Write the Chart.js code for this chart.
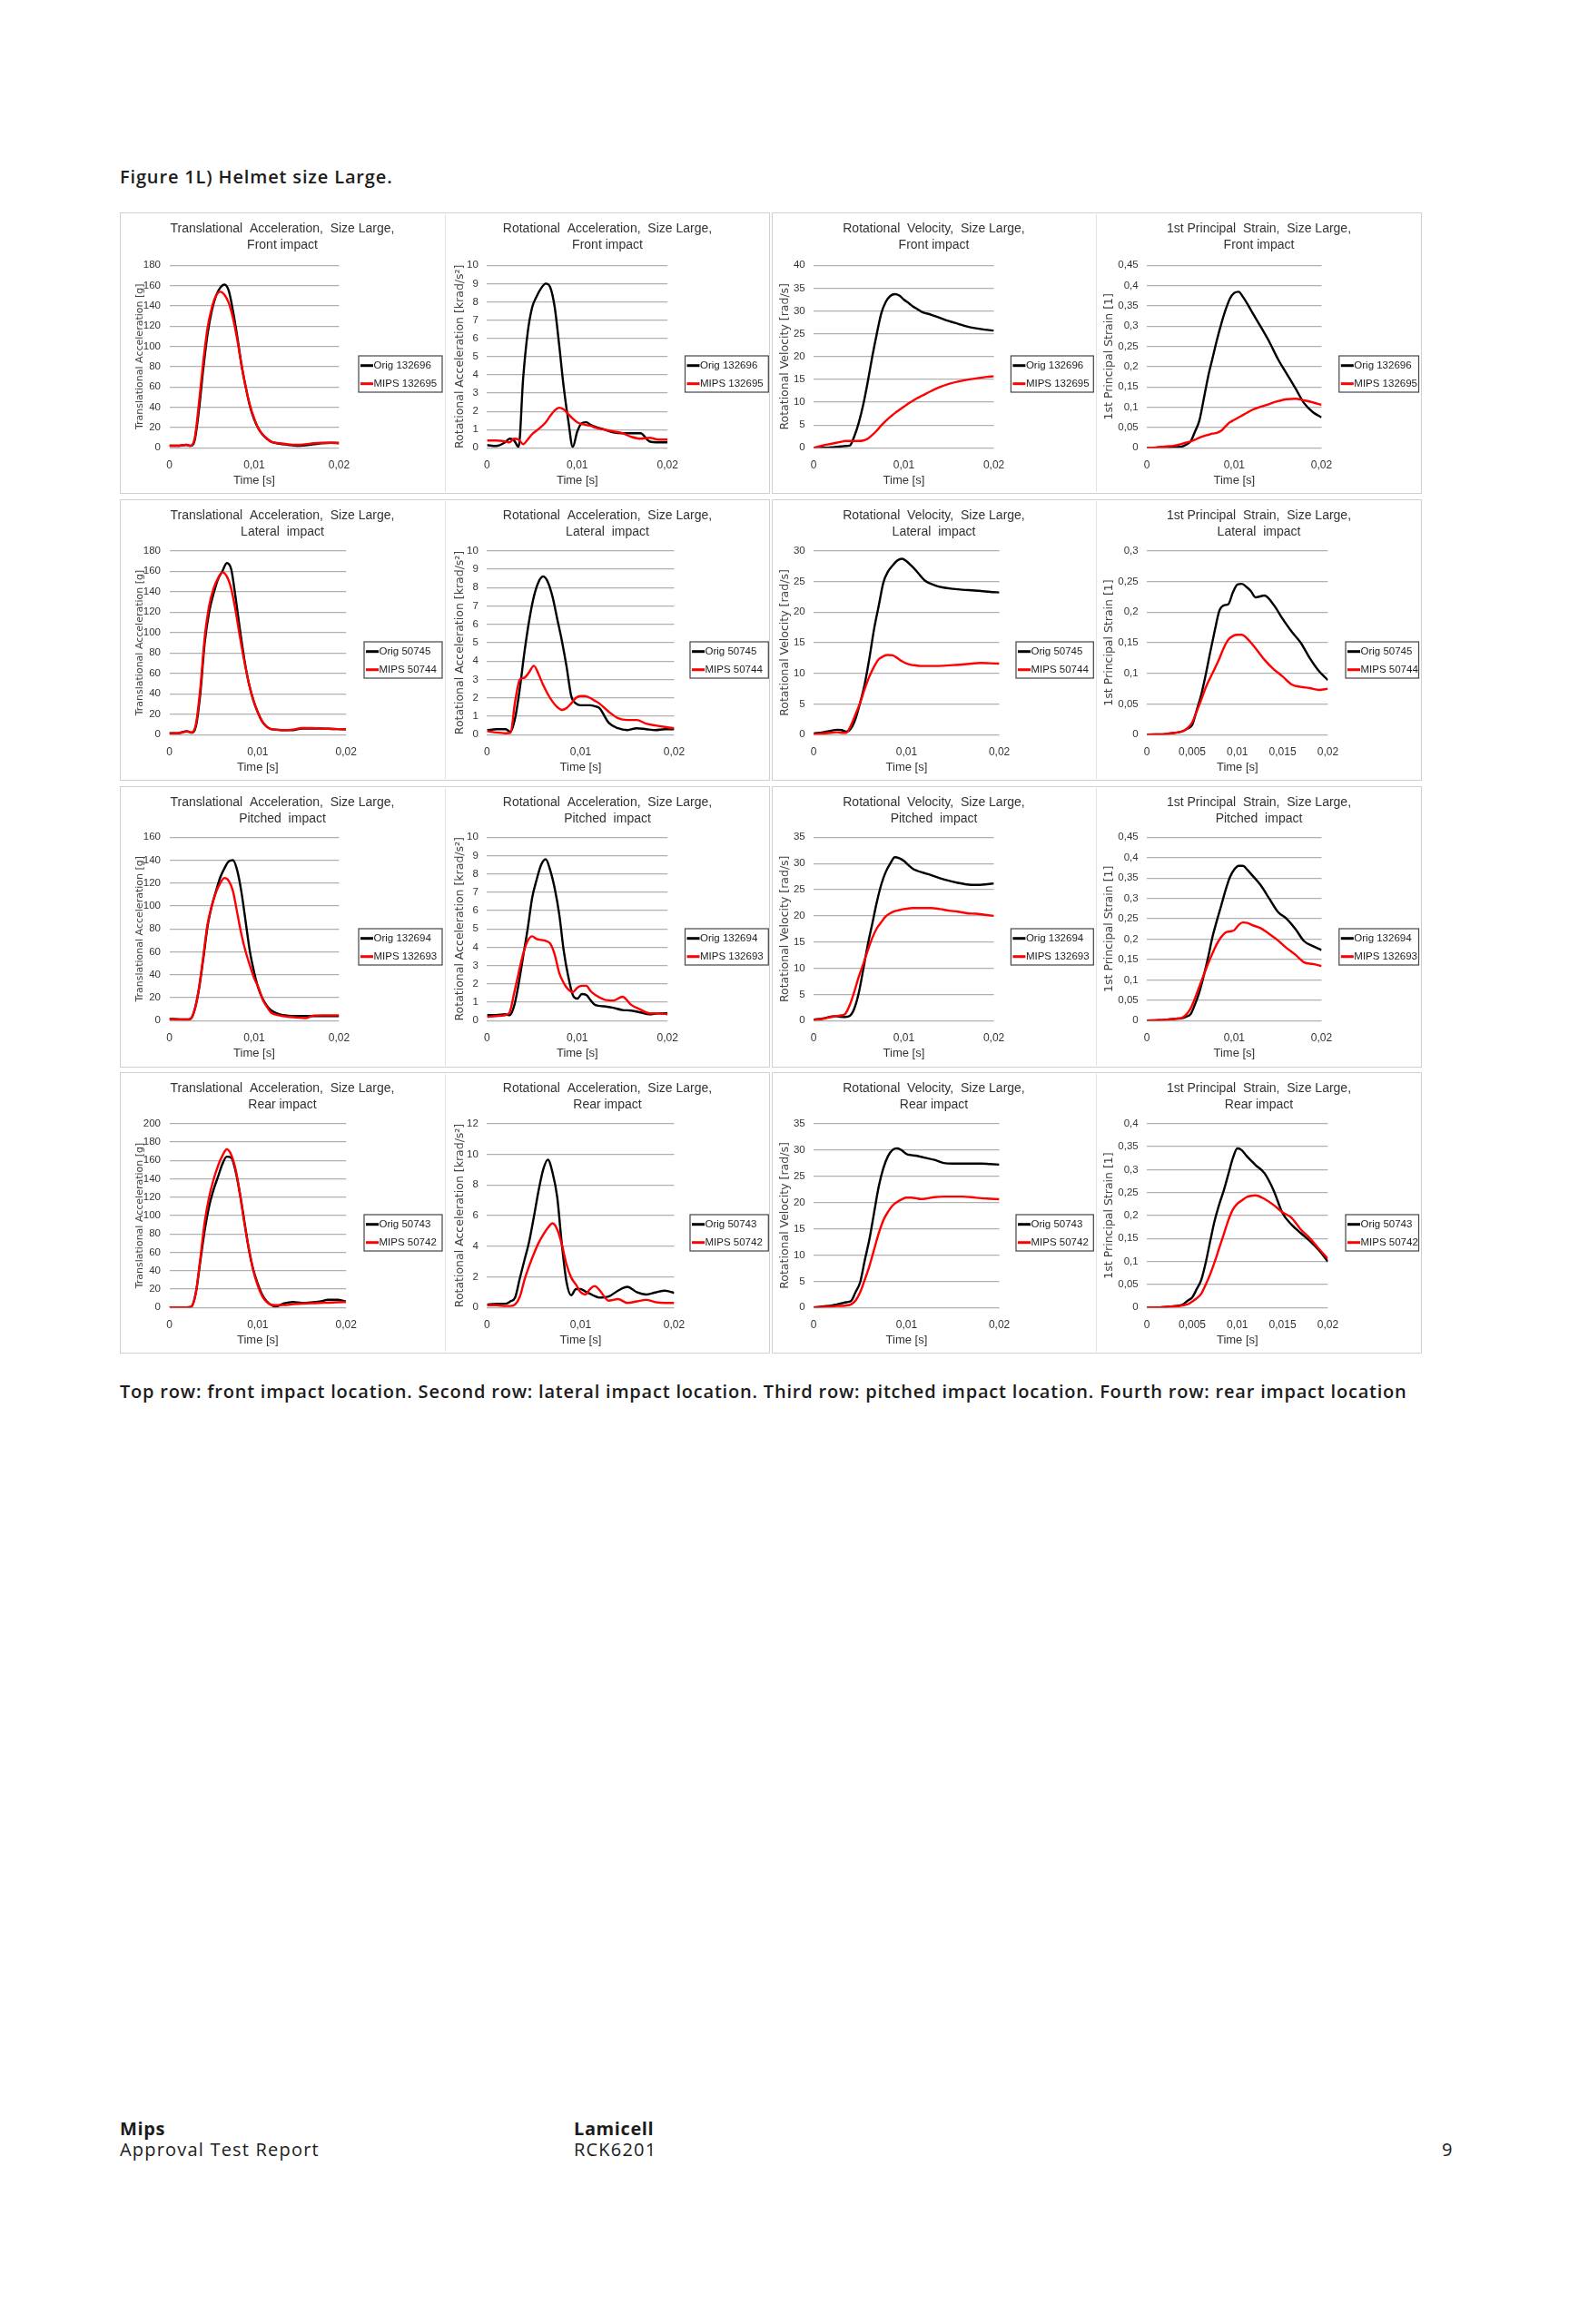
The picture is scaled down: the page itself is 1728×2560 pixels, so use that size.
<!DOCTYPE html>
<html>
<head>
<meta charset="utf-8">
<script src="https://cdn.jsdelivr.net/npm/chart.js@4.4.0/dist/chart.umd.min.js"></script>
<style>
  body { margin: 0; background: #fff; width: 1728px; height: 2560px; position: relative; font-family: "Open Sans", sans-serif; color: #1c1c1c; }
  .txt { position: absolute; white-space: nowrap; line-height: 24px; }
  .frame { position: absolute; border: 1.5px solid #d0d0d0; box-sizing: border-box; }
  .divider { position: absolute; width: 1px; background: #e3e3e3; }
  canvas { position: absolute; }
</style>
</head>
<body>

<div class="txt" style="left:132px;top:183px;font-size:20px;font-weight:600;letter-spacing:0.85px">Figure 1L) Helmet size Large.</div>
<div class="txt" style="left:132px;top:1521px;font-size:20px;font-weight:600;letter-spacing:0.8px">Top row: front impact location. Second row: lateral impact location. Third row: pitched impact location. Fourth row: rear impact location</div>

<div class="txt" style="left:132px;top:2333px;font-size:20px;font-weight:700;letter-spacing:0.6px">Mips</div>
<div class="txt" style="left:132px;top:2356px;font-size:20px;letter-spacing:1.2px">Approval Test Report</div>
<div class="txt" style="left:632px;top:2333px;font-size:20px;font-weight:700;letter-spacing:0.6px">Lamicell</div>
<div class="txt" style="left:632px;top:2356px;font-size:20px;letter-spacing:1.2px">RCK6201</div>
<div class="txt" style="left:1588px;top:2356px;font-size:20px">9</div>

<div id="grid"></div>

<script>
// time stamps [s], shared by every curve
const T = [0, 0.001, 0.002, 0.0025, 0.003, 0.0035, 0.004, 0.0045, 0.005, 0.0055, 0.006, 0.0065, 0.007, 0.0075, 0.008, 0.0085, 0.009, 0.0095, 0.01, 0.0105, 0.011, 0.0115, 0.012, 0.013, 0.014, 0.015, 0.016, 0.017, 0.018, 0.019, 0.02];

// front impact
const transFrontOrig = [2,2,3,2,8,38,78,112,135,150,158,161,155,135,110,82,60,41,28,19,13,9,6,4,3,2,2.5,3.5,4.5,5,4.5];
const transFrontMips = [2,2,3,2,10,45,85,118,138,150,154,151,143,128,107,82,60,42,29,19,13,9,6,4.5,3.5,3,3.5,4.5,5,5,5];
const rotAccFrontOrig = [0.15,0.1,0.3,0.5,0.4,0.05,3.8,6.3,7.7,8.3,8.75,9.0,8.8,7.7,5.6,3.3,1.5,0.05,0.9,1.35,1.4,1.25,1.15,1.0,0.85,0.8,0.8,0.8,0.35,0.3,0.3];
const rotAccFrontMips = [0.4,0.4,0.35,0.3,0.5,0.45,0.2,0.45,0.75,0.95,1.15,1.4,1.75,2.05,2.2,2.1,1.85,1.6,1.4,1.3,1.25,1.2,1.1,1.0,0.9,0.8,0.6,0.5,0.55,0.45,0.45];
const rotVelFrontOrig = [0,0,0.1,0.2,0.3,0.4,0.5,2.5,5.5,9.5,14.5,20,25,29.5,32,33.3,33.7,33.4,32.5,31.8,31,30.4,29.8,29.2,28.5,27.8,27.2,26.6,26.2,25.9,25.7];
const rotVelFrontMips = [0,0.5,0.9,1.1,1.3,1.5,1.5,1.5,1.5,1.6,2.0,2.8,3.8,4.9,5.9,6.8,7.6,8.3,9.0,9.7,10.3,10.9,11.4,12.4,13.3,14.0,14.5,14.9,15.2,15.5,15.7];
const strainFrontOrig = [0,0,0.001,0.001,0.002,0.002,0.003,0.008,0.016,0.04,0.067,0.12,0.175,0.22,0.265,0.305,0.34,0.368,0.382,0.385,0.372,0.355,0.336,0.3,0.262,0.219,0.183,0.147,0.11,0.088,0.075];
const strainFrontMips = [0,0.001,0.003,0.004,0.005,0.007,0.01,0.013,0.016,0.02,0.025,0.029,0.032,0.035,0.037,0.042,0.053,0.063,0.069,0.075,0.081,0.087,0.093,0.101,0.108,0.115,0.12,0.121,0.117,0.112,0.106];

// lateral impact
const transLatOrig = [1.5,1.5,3.5,2,8,40,90,120,138,152,160,168,162,134,102,73,50,34,22,13,8,5.5,5,4.4,4.5,6,6,6,5.8,5.5,5.3];
const transLatMips = [1.5,1.5,3,2,10,45,95,126,143,153,159,155,143,121,95,71,50,34,22,13,8,5.5,5,4.4,5,6.5,6.5,6,5.8,5.5,5.3];
const rotAccLatOrig = [0.25,0.3,0.3,0.15,0.9,2.5,4.5,6.2,7.5,8.3,8.6,8.3,7.5,6.3,5.1,3.7,2.1,1.7,1.6,1.6,1.6,1.55,1.45,0.65,0.35,0.25,0.35,0.3,0.25,0.3,0.3];
const rotAccLatMips = [0.2,0.12,0.08,0.1,1.8,3.0,3.1,3.4,3.75,3.3,2.7,2.2,1.8,1.5,1.35,1.45,1.7,2.0,2.1,2.1,2.0,1.85,1.7,1.25,0.9,0.8,0.8,0.6,0.5,0.42,0.35];
const rotVelLatOrig = [0.2,0.4,0.7,0.8,0.75,0.5,1.0,2.6,5.2,8.3,12.5,17.2,21,24.8,26.6,27.6,28.4,28.7,28.3,27.6,26.8,25.9,25.1,24.4,24,23.8,23.65,23.55,23.45,23.3,23.2];
const rotVelLatMips = [0.1,0.2,0.35,0.4,0.3,0.3,1.5,3.3,5.2,7.5,9.5,11.1,12.3,12.8,13.0,12.95,12.5,12.0,11.6,11.4,11.3,11.2,11.2,11.2,11.25,11.35,11.45,11.6,11.7,11.65,11.6];
const strainLatOrig = [0,0.0005,0.001,0.002,0.003,0.004,0.006,0.01,0.016,0.04,0.065,0.098,0.135,0.17,0.202,0.211,0.213,0.232,0.245,0.246,0.241,0.234,0.224,0.227,0.212,0.189,0.168,0.15,0.125,0.104,0.089];
const strainLatMips = [0,0.0005,0.001,0.002,0.003,0.004,0.006,0.011,0.02,0.038,0.057,0.077,0.093,0.108,0.124,0.142,0.155,0.161,0.163,0.163,0.158,0.15,0.141,0.122,0.107,0.095,0.082,0.078,0.076,0.073,0.075];

// pitched impact
const transPitOrig = [1.5,1.2,1,1.5,10,28,54,82,100,113,125,133,139,140,131,112,86,60,42,28,19,13,9,5.5,4.3,4,4,4,4,4,4];
const transPitMips = [1.5,1,1,1.5,10,29,56,84,100,112,120,124.5,122,113,94,75,60,48,37,29,18.5,12,7,4.5,3.4,2.8,2.2,4.5,4.7,4.7,4.7];
const rotAccPitOrig = [0.3,0.3,0.35,0.3,0.8,2.0,3.5,5.0,6.7,7.7,8.5,8.8,8.2,7.2,5.8,3.8,2.4,1.4,1.2,1.45,1.4,1.1,0.85,0.78,0.7,0.58,0.55,0.45,0.35,0.4,0.4];
const rotAccPitMips = [0.2,0.25,0.3,0.45,1.5,2.6,3.65,4.35,4.6,4.45,4.4,4.35,4.2,3.6,2.6,2.05,1.7,1.55,1.8,1.9,1.9,1.6,1.4,1.15,1.1,1.3,0.85,0.6,0.4,0.4,0.35];
const rotVelPitOrig = [0.2,0.4,0.8,0.85,0.75,0.7,0.9,2.3,5.3,9.8,14.5,18.5,22.6,26,28.4,30,31.2,31,30.5,29.7,29,28.6,28.3,27.8,27.2,26.7,26.3,26,25.9,26,26.2];
const rotVelPitMips = [0.1,0.35,0.7,0.85,1.0,1.3,3.0,5.5,8.4,10.8,13.4,15.8,17.6,18.8,19.9,20.5,20.9,21.1,21.3,21.4,21.5,21.5,21.5,21.5,21.3,21,20.8,20.5,20.4,20.2,20];
const strainPitOrig = [0,0.001,0.002,0.003,0.004,0.005,0.006,0.01,0.016,0.04,0.07,0.11,0.155,0.205,0.245,0.282,0.32,0.352,0.371,0.38,0.38,0.37,0.358,0.333,0.3,0.267,0.25,0.225,0.195,0.183,0.173];
const strainPitMips = [0,0.001,0.002,0.003,0.004,0.005,0.007,0.015,0.03,0.055,0.084,0.112,0.14,0.165,0.188,0.205,0.216,0.219,0.222,0.235,0.241,0.24,0.235,0.227,0.213,0.197,0.178,0.162,0.143,0.139,0.134];

// rear impact
const transRearOrig = [0,0,0,1,16,50,84,110,128,142,156,164,163,148,123,93,63,41,26,14,7,3,1,4.5,6,5,5.5,6.5,8.5,8.5,6.6];
const transRearMips = [0,0,0,1,16,53,93,120,139,154,165,172,166,150,123,91,64,40,24,12.5,6,3,2.5,2.6,3.6,4.3,4.6,5,5.3,5.7,6];
const rotAccRearOrig = [0.2,0.25,0.25,0.4,0.65,1.9,3.1,4.3,5.9,7.6,9.0,9.65,8.8,7.2,4.1,1.65,0.8,1.2,1.2,1.05,0.9,0.75,0.65,0.72,1.1,1.35,1.0,0.85,0.98,1.1,0.95];
const rotAccRearMips = [0.15,0.15,0.1,0.1,0.2,0.7,1.8,2.7,3.5,4.2,4.75,5.2,5.5,5.1,4.1,2.8,1.95,1.5,1.0,0.85,1.2,1.4,1.15,0.45,0.55,0.3,0.4,0.5,0.35,0.3,0.3];
const rotVelRearOrig = [0,0.2,0.4,0.6,0.8,1.0,1.2,2.9,4.8,9,13,18,23,26.5,28.8,30,30.3,29.9,29.2,29,28.9,28.7,28.5,28.1,27.5,27.4,27.4,27.4,27.4,27.3,27.2];
const rotVelRearMips = [0,0.1,0.2,0.3,0.3,0.4,0.6,1.3,2.9,5.3,7.9,11,14.1,16.6,18.2,19.4,20.1,20.6,20.9,20.9,20.8,20.65,20.7,21,21.1,21.1,21.1,21,20.8,20.7,20.6];
const strainRearOrig = [0,0,0.001,0.002,0.003,0.004,0.007,0.015,0.022,0.04,0.06,0.098,0.145,0.19,0.225,0.255,0.29,0.325,0.346,0.342,0.33,0.32,0.31,0.292,0.255,0.205,0.18,0.162,0.145,0.125,0.1];
const strainRearMips = [0,0,0.001,0.002,0.002,0.003,0.005,0.007,0.013,0.02,0.03,0.05,0.073,0.1,0.13,0.16,0.19,0.213,0.226,0.233,0.24,0.243,0.244,0.236,0.223,0.207,0.195,0.17,0.151,0.128,0.106];

// labels
const titleTop = ['Translational  Acceleration,  Size Large,', 'Rotational  Acceleration,  Size Large,', 'Rotational  Velocity,  Size Large,', '1st Principal  Strain,  Size Large,'];
const impacts = ['Front impact', 'Lateral  impact', 'Pitched  impact', 'Rear impact'];
const yTitles = ['Translational Acceleration [g]', 'Rotational Acceleration [krad/s\u00b2]', 'Rotational Velocity [rad/s]', '1st Principal Strain [1]'];
const origLabels = ['Orig 132696', 'Orig 50745', 'Orig 132694', 'Orig 50743'];
const mipsLabels = ['MIPS 132695', 'MIPS 50744', 'MIPS 132693', 'MIPS 50742'];

// axis ranges per row / column
const yMax = [[180, 10, 40, 0.45], [180, 10, 30, 0.3], [160, 10, 35, 0.45], [200, 12, 35, 0.4]];
const yStep = [[20, 1, 5, 0.05], [20, 1, 5, 0.05], [20, 1, 5, 0.05], [20, 2, 5, 0.05]];
const xStep = [[0.01, 0.01, 0.01, 0.01], [0.01, 0.01, 0.01, 0.005], [0.01, 0.01, 0.01, 0.01], [0.01, 0.01, 0.01, 0.005]];

const origSeries = [
  [transFrontOrig, rotAccFrontOrig, rotVelFrontOrig, strainFrontOrig],
  [transLatOrig, rotAccLatOrig, rotVelLatOrig, strainLatOrig],
  [transPitOrig, rotAccPitOrig, rotVelPitOrig, strainPitOrig],
  [transRearOrig, rotAccRearOrig, rotVelRearOrig, strainRearOrig]
];
const mipsSeries = [
  [transFrontMips, rotAccFrontMips, rotVelFrontMips, strainFrontMips],
  [transLatMips, rotAccLatMips, rotVelLatMips, strainLatMips],
  [transPitMips, rotAccPitMips, rotVelPitMips, strainPitMips],
  [transRearMips, rotAccRearMips, rotVelRearMips, strainRearMips]
];

// page geometry (px)
const cellX = [132, 490, 850, 1207];
const cellW = [358, 358, 357, 359];
const rowY = [234, 550, 866, 1181];
const cellH = 310;
const plotL = [186.5, 536.4, 896.2, 1263.2];
const plotR = [[373.4, 735.2, 1094.6, 1455.5], [381.2, 742.5, 1100.6, 1462.4]];
const plotT = [292.3, 606.7, 922.3, 1237.7];
const plotB = [493.3, 809.3, 1124.3, 1440.3];
const legL = [[395, 754.5, 1113.4, 1474.8], [401, 760, 1119, 1482]];
const legR = [487, 846.3, 1204.3, 1562.5];
const legT = [392, 707, 1023, 1338];
const yTitleX = [154, 506.5, 865, 1222];
const yTitleSize = [11, 12.5, 12.5, 12.5];

const FONT = '"Liberation Sans", Arial, sans-serif';
Chart.defaults.font.family = FONT;

function comma(v) {
  if (v === 0) return '0';
  return String(Math.round(v * 10000) / 10000).replace('.', ',');
}

// chart title lines + boxed legend
const cellDecor = {
  id: 'cellDecor',
  afterDraw(chart, args, opts) {
    const ctx = chart.ctx;
    ctx.save();
    ctx.fillStyle = '#333';
    ctx.font = '14px ' + FONT;
    ctx.textAlign = 'center';
    ctx.textBaseline = 'middle';
    opts.lines.forEach((s, i) => ctx.fillText(s, chart.width / 2, 17.7 + i * 18));

    const b = opts.box;
    ctx.strokeStyle = '#444';
    ctx.lineWidth = 1.2;
    ctx.strokeRect(b.x, b.y, b.w, b.h);
    ctx.font = '11.5px ' + FONT;
    ctx.textAlign = 'left';
    chart.data.datasets.forEach((ds, i) => {
      const y = b.y + 10.7 + i * 20;
      ctx.strokeStyle = ds.borderColor;
      ctx.lineWidth = 3;
      ctx.beginPath();
      ctx.moveTo(b.x + 2, y);
      ctx.lineTo(b.x + 16, y);
      ctx.stroke();
      ctx.fillStyle = '#222';
      ctx.fillText(ds.label, b.x + 16.5, y);
    });
    ctx.restore();
  }
};

const grid = document.getElementById('grid');

// frames: two images per row, each with a light divider
rowY.forEach(top => {
  [[132, 848, 490], [850, 1566, 1207]].forEach(([l, r, mid]) => {
    const f = document.createElement('div');
    f.className = 'frame';
    f.style.cssText = `left:${l}px;top:${top}px;width:${r - l}px;height:${cellH}px`;
    grid.appendChild(f);
    const d = document.createElement('div');
    d.className = 'divider';
    d.style.cssText = `left:${mid}px;top:${top + 2}px;height:${cellH - 4}px`;
    grid.appendChild(d);
  });
});

for (let r = 0; r < 4; r++) {
  for (let c = 0; c < 4; c++) {
    const cv = document.createElement('canvas');
    const W = cellW[c], H = cellH;
    cv.width = W; cv.height = H;
    cv.style.left = cellX[c] + 'px';
    cv.style.top = rowY[r] + 'px';
    grid.appendChild(cv);

    const wide = r % 2;
    const L = plotL[c] - cellX[c];
    const R = plotR[wide][c] - cellX[c];
    const top = plotT[r] - rowY[r];
    const B = plotB[r] - rowY[r];
    const yLH = yTitleSize[c] * 1.2;
    const yScaleLeft = yTitleX[c] - cellX[c] - yLH / 2;
    const yW = L - yScaleLeft;
    const xH = 36 + 13 * 1.2 / 2;

    const orig = origSeries[r][c].map((v, i) => ({ x: T[i], y: v }));
    const mips = mipsSeries[r][c].map((v, i) => ({ x: T[i], y: v }));

    new Chart(cv, {
      type: 'line',
      data: {
        datasets: [
          { label: origLabels[r], data: orig, borderColor: '#000000', borderWidth: 2.4, pointRadius: 0, cubicInterpolationMode: 'monotone', order: 1 },
          { label: mipsLabels[r], data: mips, borderColor: '#ff0000', borderWidth: 2.4, pointRadius: 0, cubicInterpolationMode: 'monotone', order: 0 }
        ]
      },
      options: {
        responsive: false,
        animation: false,
        events: [],
        layout: { padding: { left: yScaleLeft, top: top, right: W - R, bottom: H - B - xH } },
        plugins: {
          legend: { display: false },
          title: { display: false },
          tooltip: { enabled: false },
          cellDecor: {
            lines: [titleTop[c], impacts[r]],
            box: { x: legL[wide][c] - cellX[c], y: legT[r] - rowY[r], w: legR[c] - legL[wide][c], h: 40 }
          }
        },
        scales: {
          x: {
            type: 'linear',
            min: 0,
            max: 0.02,
            afterFit: s => { s.height = xH; },
            grid: { display: false },
            border: { display: false },
            ticks: { stepSize: xStep[r][c], padding: 4, color: '#333', font: { size: 12 }, callback: comma, maxRotation: 0, autoSkip: false },
            title: { display: true, text: 'Time [s]', color: '#333', font: { size: 13 }, padding: 0 }
          },
          y: {
            min: 0,
            max: yMax[r][c],
            afterFit: s => { s.width = yW; },
            grid: { color: '#b0b0b0', lineWidth: 1.2, drawTicks: false },
            border: { display: false },
            ticks: { stepSize: yStep[r][c], padding: 9.5, color: '#333', font: { size: 11.5 }, callback: comma, autoSkip: false },
            title: { display: true, text: yTitles[c], color: '#404040', font: { family: '"DejaVu Sans", Verdana, sans-serif', size: yTitleSize[c] }, padding: 0 }
          }
        }
      },
      plugins: [cellDecor]
    });
  }
}
</script>
</body>
</html>
